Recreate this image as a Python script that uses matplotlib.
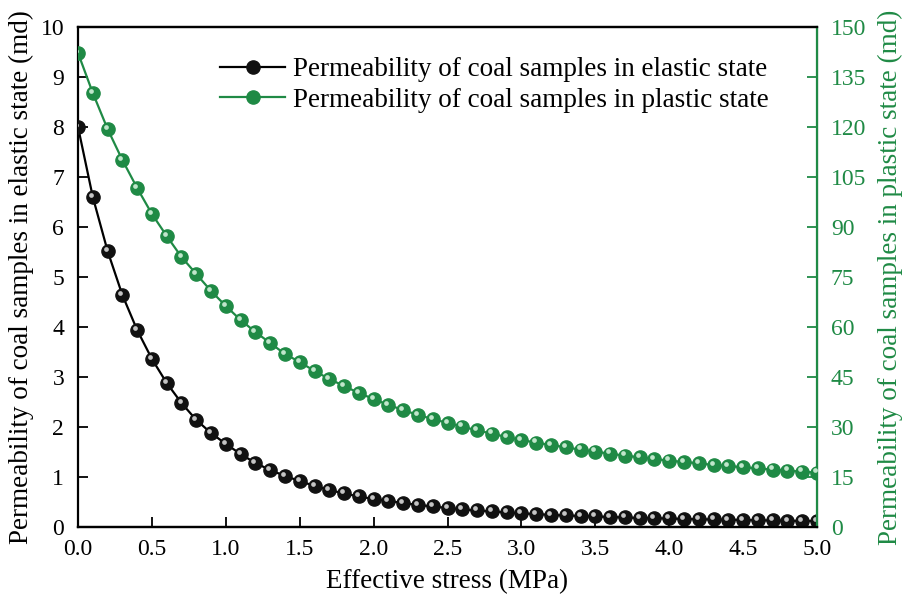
import matplotlib
matplotlib.use("Agg")
import matplotlib.pyplot as plt
import matplotlib.transforms as mtransforms
import numpy as np

# effective stress (MPa), 0.0 .. 5.0 in steps of 0.1
stress = [round(0.1 * i, 1) for i in range(51)]

# permeability in elastic state (md), left axis
k_elastic = [8.00, 6.60, 5.52, 4.64, 3.94, 3.36, 2.88, 2.48, 2.14, 1.88,
             1.66, 1.46, 1.28, 1.14, 1.02, 0.92, 0.82, 0.74, 0.67, 0.61,
             0.56, 0.52, 0.48, 0.44, 0.41, 0.38, 0.35, 0.33, 0.31, 0.29,
             0.27, 0.26, 0.24, 0.23, 0.22, 0.21, 0.20, 0.19, 0.18, 0.175,
             0.17, 0.16, 0.155, 0.15, 0.145, 0.14, 0.135, 0.13, 0.125, 0.12,
             0.12]

# permeability in plastic state (md), right axis
k_plastic = [142.2, 130.2, 119.4, 110.1, 101.7, 93.9, 87.3, 81.0, 75.9, 70.8,
             66.3, 62.1, 58.5, 55.2, 51.9, 49.5, 46.8, 44.4, 42.3, 40.2,
             38.4, 36.6, 35.1, 33.6, 32.4, 31.2, 30.1, 29.0, 28.0, 27.0,
             26.1, 25.3, 24.6, 23.9, 23.2, 22.6, 22.0, 21.4, 20.9, 20.4,
             19.9, 19.5, 19.1, 18.6, 18.3, 17.9, 17.6, 17.2, 16.9, 16.6,
             16.3]

x_ticks = [0.0, 0.5, 1.0, 1.5, 2.0, 2.5, 3.0, 3.5, 4.0, 4.5, 5.0]
left_ticks = list(range(0, 11))
right_ticks = list(range(0, 151, 15))

green = '#1f8a45'
plt.rcParams['font.family'] = ['Liberation Serif', 'DejaVu Serif']
tick_fs = 17
label_fs = 19.5

fig = plt.figure(figsize=(9.18, 5.95), dpi=100)
ax = fig.add_axes([0.085, 0.1143, 0.805, 0.8403])
ax2 = ax.twinx()

ms = 9.5
ax.plot(stress, k_elastic, color='black', lw=1.6, marker='o', ms=ms,
        mfc='#111111', mec='#111111', zorder=3,
        label='Permeability of coal samples in elastic state')
ax2.plot(stress, k_plastic, color=green, lw=1.6, marker='o', ms=ms,
         mfc=green, mec=green, zorder=3,
         label='Permeability of coal samples in plastic state')

# small highlight to give the balls a shaded look
hl1 = mtransforms.offset_copy(ax.transData, fig=fig, x=-1.4, y=1.6, units='points')
hl2 = mtransforms.offset_copy(ax2.transData, fig=fig, x=-1.4, y=1.6, units='points')
ax.plot(stress, k_elastic, ls='none', marker='o', ms=3.4, mfc='#c4c4c4',
        mec='none', transform=hl1, zorder=4)
ax2.plot(stress, k_plastic, ls='none', marker='o', ms=3.4, mfc='#c0e6cb',
         mec='none', transform=hl2, zorder=4)

ax.set_xlim(0, 5)
ax.set_ylim(0, 10)
ax2.set_ylim(0, 150)
ax.set_xticks(x_ticks)
ax.set_xticklabels(['%.1f' % t for t in x_ticks])
ax.set_yticks(left_ticks)
ax2.set_yticks(right_ticks)

ax.set_xlabel('Effective stress (MPa)', fontsize=label_fs, labelpad=6)
ax.set_ylabel('Permeability of coal samples in elastic state (md)', fontsize=label_fs, labelpad=5)
ax2.set_ylabel('Permeability of coal samples in plastic state (md)', fontsize=label_fs,
               color=green, labelpad=8)

ax.tick_params(axis='both', direction='in', length=7, width=1.3, labelsize=tick_fs)
ax.tick_params(axis='x', pad=9)
ax.tick_params(axis='y', pad=10)
ax2.tick_params(axis='y', direction='in', length=7, width=1.3, labelsize=tick_fs,
                colors=green, pad=10)

for s in ['left', 'bottom', 'top']:
    ax.spines[s].set_linewidth(1.6)
ax2.spines['right'].set_color(green)
ax2.spines['right'].set_linewidth(1.6)
ax2.spines['left'].set_visible(False)
ax2.spines['top'].set_linewidth(1.6)
ax2.spines['bottom'].set_linewidth(1.6)

h1, l1 = ax.get_legend_handles_labels()
h2, l2 = ax2.get_legend_handles_labels()
ax2.legend(h1 + h2, l1 + l2, loc='upper right', bbox_to_anchor=(0.968, 0.988),
           frameon=False, fontsize=label_fs, handlelength=2.4, handletextpad=0.3,
           labelspacing=0.2)

fig.savefig('out.png', dpi=100)
